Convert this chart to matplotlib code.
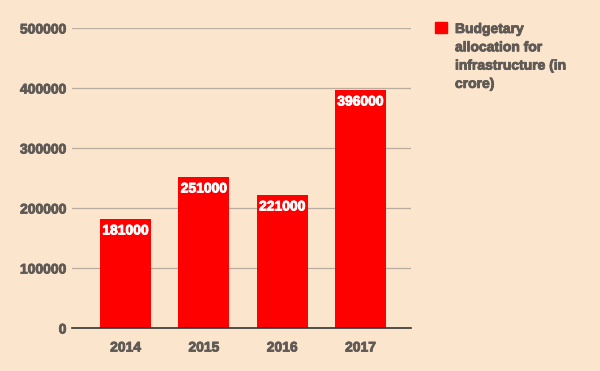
import matplotlib
matplotlib.use("Agg")
import matplotlib.pyplot as plt
import matplotlib.patches as mpatches
import matplotlib.patheffects as pe

years = ["2014", "2015", "2016", "2017"]
allocation = [181000, 251000, 221000, 396000]
y_ticks = [0, 100000, 200000, 300000, 400000, 500000]
legend_label = "Budgetary\nallocation for\ninfrastructure (in\ncrore)"

bg = "#fce5cd"
text_col = "#5f5a55"
plt.rcParams['font.family'] = ['Liberation Sans', 'DejaVu Sans']

fig = plt.figure(figsize=(6, 3.71), dpi=100, facecolor=bg)
ax = fig.add_axes([72 / 600, 1 - 328 / 371, 339 / 600, 300 / 371])
ax.set_facecolor(bg)

x = range(len(years))
bars = ax.bar(x, allocation, width=0.65, color="#ff0000", zorder=3)
for b, v in zip(bars, allocation):
    t = ax.text(b.get_x() + b.get_width() / 2, v - 18500, str(v), ha="center", va="center",
                color="white", fontsize=10, fontweight="bold", zorder=4)
    t.set_path_effects([pe.withStroke(linewidth=0.6, foreground="white")])

ax.set_xlim(-0.684, 3.645)
ax.set_ylim(0, 500000)
ax.set_yticks(y_ticks)
ax.set_yticklabels([str(t) for t in y_ticks])
ax.set_xticks(list(x))
ax.set_xticklabels(years)
ax.grid(axis="y", color="#b8ad9f", linewidth=0.9, zorder=0)
for s in ["top", "right", "left"]:
    ax.spines[s].set_visible(False)
ax.spines["bottom"].set_color("#333333")
ax.spines["bottom"].set_linewidth(1.2)
ax.spines["bottom"].set_zorder(5)
ax.tick_params(length=0, labelsize=10, labelcolor=text_col)
ax.tick_params(axis="x", pad=9)
ax.tick_params(axis="y", pad=4)
for lbl in ax.get_xticklabels() + ax.get_yticklabels():
    lbl.set_fontweight("bold")
    lbl.set_path_effects([pe.withStroke(linewidth=0.6, foreground=text_col)])

fig.patches.append(mpatches.Rectangle((435 / 600, 1 - 33 / 371), 12 / 600, 11 / 371,
                                      transform=fig.transFigure, color="#ff0000"))
lt = fig.text(455 / 600, 1 - 22 / 371, legend_label, ha="left", va="top", color=text_col,
              fontsize=10, fontweight="bold", linespacing=1.39)
lt.set_path_effects([pe.withStroke(linewidth=0.6, foreground=text_col)])

fig.savefig("out.png", dpi=100, facecolor=bg)
